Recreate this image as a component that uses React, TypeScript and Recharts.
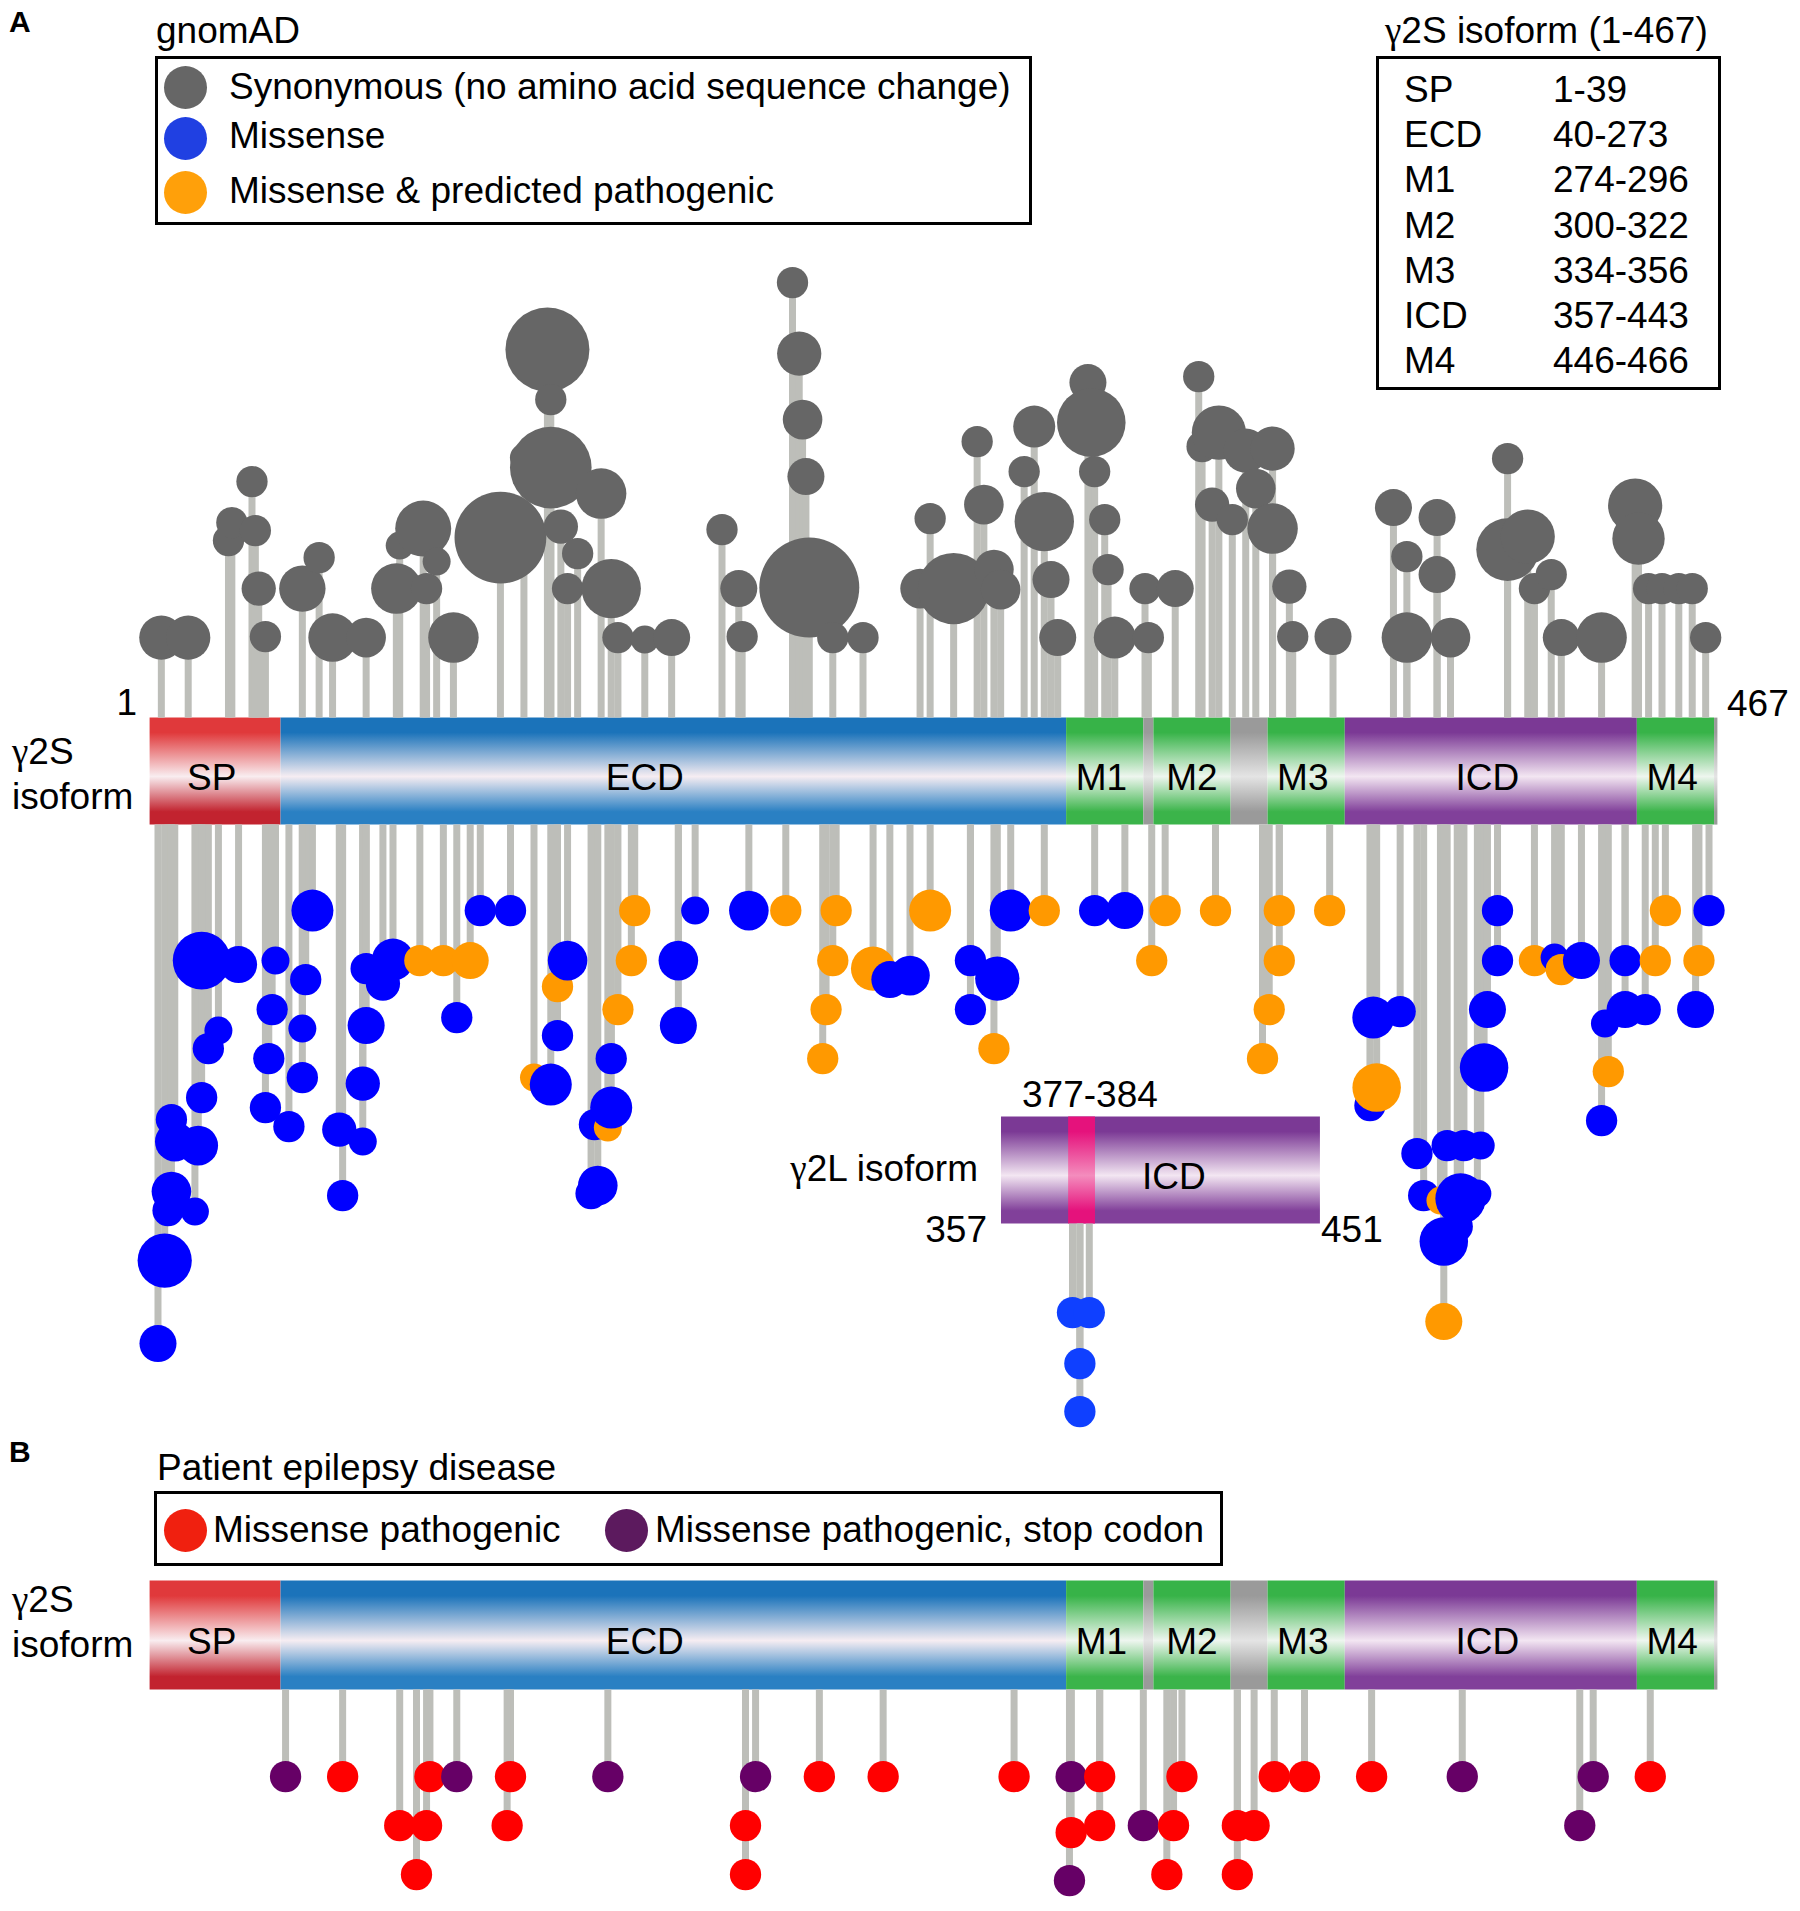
import React from 'react';
import { ComposedChart, Scatter, ErrorBar, XAxis, YAxis, ZAxis, ReferenceArea, ReferenceDot } from 'recharts';

// gnomAD synonymous: residue, stack height above the bar, carriers
const synonymous: [number, number, number][] = [
  [4, 80, 10], [12, 80, 10], [24, 177, 5], [25, 195, 5], [31, 236, 5], [32, 187, 5], [33, 129, 6], [35, 81, 5],
  [46, 129, 11], [51, 160, 5], [55, 80, 12], [65, 80, 8], [74, 129, 13], [75, 172, 4], [82, 189, 16], [83, 129, 5],
  [86, 156, 4], [91, 80, 13], [105, 180, 43], [112, 260, 4], [119, 368, 36], [120, 318, 5], [120, 250, 34],
  [123, 191, 6], [125, 129, 5], [128, 164, 5], [135, 224, 13], [138, 129, 18], [140, 80, 5], [148, 78, 4], [156, 80, 7],
  [171, 188, 5], [176, 129, 7], [177, 81, 5], [192, 435, 5], [194, 364, 10], [195, 298, 8], [196, 241, 7], [197, 130, 51],
  [204, 80, 5], [213, 80, 5], [230, 129, 8], [233, 199, 5], [240, 129, 26], [247, 276, 5], [249, 213, 8], [252, 148, 8],
  [254, 128, 8], [261, 246, 5], [264, 291, 9], [267, 196, 18], [269, 138, 7], [271, 80, 7],
  [280, 335, 7], [281, 295, 24], [282, 246, 5], [285, 198, 5], [286, 148, 5], [288, 80, 9],
  [297, 129, 5], [298, 80, 5], [306, 129, 7], [313, 341, 5], [314, 271, 5], [317, 213, 6], [319, 285, 15], [323, 198, 5],
  [327, 267, 10], [330, 229, 8], [335, 269, 10], [335, 189, 13], [340, 131, 6], [341, 81, 5], [353, 81, 7],
  [371, 210, 7], [375, 161, 5], [375, 80, 13], [384, 200, 7], [384, 143, 7], [388, 80, 8],
  [405, 259, 5], [405, 168, 20], [411, 181, 15], [413, 129, 5], [418, 143, 5], [421, 80, 7], [433, 80, 13],
  [443, 212, 15], [444, 179, 14], [447, 129, 5], [451, 129, 5], [456, 129, 5], [460, 129, 5], [464, 80, 5],
];

// gnomAD missense: residue, depth below the bar, carriers, 0 = missense, 1 = predicted pathogenic
const missense: [number, number, number, number][] = [
  [3, 519, 7, 0], [5, 436, 15, 0], [6, 386, 5, 0], [7, 367, 8, 0], [14, 387, 4, 0], [7, 295, 5, 0], [8, 317, 8, 0],
  [15, 321, 8, 0], [16, 273, 5, 0], [18, 224, 5, 0], [21, 206, 4, 0], [16, 136, 17, 0], [27, 140, 7, 0], [38, 136, 4, 0],
  [49, 86, 9, 0], [47, 155, 5, 0], [37, 185, 5, 0], [46, 204, 4, 0], [36, 234, 5, 0], [46, 253, 5, 0], [35, 283, 5, 0],
  [42, 302, 5, 0], [58, 371, 5, 0], [57, 305, 6, 0], [64, 317, 4, 0], [64, 259, 6, 0], [65, 201, 7, 0], [65, 144, 5, 0],
  [70, 159, 6, 0], [73, 135, 9, 0], [81, 136, 5, 1], [88, 136, 5, 1], [96, 136, 7, 1], [92, 193, 5, 0], [99, 86, 5, 0],
  [108, 86, 5, 0], [115, 253, 4, 1], [120, 260, 9, 0], [122, 162, 5, 1], [125, 136, 8, 0], [122, 211, 5, 0],
  [145, 86, 5, 1], [144, 136, 5, 1], [140, 185, 5, 1], [138, 234, 5, 0], [133, 300, 5, 0], [137, 303, 4, 1],
  [138, 283, 9, 0], [134, 361, 8, 0], [132, 369, 5, 0], [158, 136, 8, 0], [158, 201, 7, 0],
  [163, 86, 4, 0], [179, 86, 8, 0], [190, 86, 5, 1], [205, 86, 5, 1], [204, 136, 5, 1], [202, 185, 5, 1], [201, 234, 5, 1],
  [233, 86, 9, 1], [216, 144, 10, 1], [221, 155, 7, 0], [227, 151, 8, 0], [245, 136, 5, 0], [245, 185, 5, 0],
  [253, 154, 10, 0], [252, 224, 5, 1], [257, 86, 9, 0], [267, 86, 5, 1], [282, 86, 5, 0], [291, 86, 7, 0],
  [303, 86, 5, 1], [299, 136, 5, 1], [318, 86, 5, 1], [337, 86, 5, 1], [337, 136, 5, 1], [334, 185, 5, 1],
  [332, 234, 5, 1], [352, 86, 5, 1], [365, 193, 9, 0], [373, 187, 5, 0], [364, 281, 5, 0], [366, 263, 12, 1],
  [378, 329, 5, 0], [380, 371, 5, 0], [385, 376, 4, 1], [386, 417, 12, 0], [386, 497, 7, 1], [387, 321, 5, 0],
  [392, 321, 5, 0], [397, 321, 4, 0], [396, 369, 4, 0], [391, 374, 13, 0], [390, 402, 5, 0],
  [398, 243, 12, 0], [399, 185, 7, 0], [402, 136, 5, 0], [402, 86, 5, 0], [413, 136, 5, 1], [419, 133, 4, 0],
  [421, 145, 5, 1], [427, 136, 7, 0], [434, 199, 4, 0], [435, 247, 5, 1], [433, 296, 5, 0], [440, 185, 7, 0],
  [446, 185, 5, 0], [440, 136, 5, 0], [449, 136, 5, 1], [452, 86, 5, 1], [461, 185, 7, 0], [462, 136, 5, 1], [465, 86, 5, 0],
];

// gamma2L insert missense: residue (357-451 numbering), depth, carriers
const gamma2L: [number, number, number][] = [
  [377.8, 89, 5], [382.8, 89, 5], [380, 140, 5], [380, 188, 5],
];

// patient variants: residue, depth, 0 = missense pathogenic, 1 = stop codon
const patients: [number, number, number][] = [
  [41, 87, 1], [58, 87, 0], [75, 136, 0], [80, 185, 0], [83, 136, 0], [84, 87, 0], [92, 87, 1], [108, 87, 0],
  [107, 136, 0], [137, 87, 1], [178, 136, 0], [178, 185, 0], [181, 87, 1], [200, 87, 0], [219, 87, 0], [258, 87, 0],
  [275, 143, 0], [274.5, 191, 1], [275, 87, 1], [283.5, 87, 0], [283.5, 136, 0], [296.5, 136, 1], [303.5, 185, 0],
  [305.5, 136, 0], [308, 87, 0], [324.5, 136, 0], [324.5, 185, 0], [329.5, 136, 0], [335.5, 87, 0], [344.5, 87, 0],
  [364.5, 87, 0], [391.5, 87, 1], [426.5, 136, 1], [430.5, 87, 1], [447.5, 87, 0],
];

const domains = [
  { name: 'SP', start: 1, end: 39, kind: 'sp', label: 19 },
  { name: 'ECD', start: 40, end: 273, kind: 'ecd', label: 148 },
  { name: 'M1', start: 274, end: 296, kind: 'm', label: 284 },
  { name: '', start: 297, end: 299, kind: 'gap', label: 0 },
  { name: 'M2', start: 300, end: 322, kind: 'm', label: 311 },
  { name: '', start: 323, end: 333, kind: 'gap', label: 0 },
  { name: 'M3', start: 334, end: 356, kind: 'm', label: 344 },
  { name: 'ICD', start: 357, end: 443, kind: 'icd', label: 399 },
  { name: 'M4', start: 444, end: 466, kind: 'm', label: 454 },
  { name: '', start: 467, end: 467, kind: 'gap', label: 0 },
];

const regionNames = ['SP', 'ECD', 'M1', 'M2', 'M3', 'ICD', 'M4'];
const regionRanges = ['1-39', '40-273', '274-296', '300-322', '334-356', '357-443', '446-466'];

const W = 1800;
const H = 1911;
const X_DOMAIN: [number, number] = [-44.06, 492.1];
const Y_MAX = 717.6;
const Y_DOMAIN: [number, number] = [Y_MAX - H, Y_MAX];

// track levels (chart units)
const A_TOP = 0;
const A_BOT = -107;
const L_TOP = -399;
const L_BOT = -506;
const L_SHIFT = 102.4; // inset drawn shifted left
const B_TOP = -863;
const B_BOT = -972;

const STEM = '#bdbeb9';
const FONT = '"Liberation Sans", Arial, Helvetica, sans-serif';
const SERIF = '"Liberation Serif", "DejaVu Serif", serif';

const gradients: Record<string, [string, string, string]> = {
  sp: ['#e0393b', '#f9edf0', '#c2232f'],
  ecd: ['#1b73ba', '#f6edf2', '#2a80c3'],
  m: ['#37b348', '#eef6ef', '#3bb44a'],
  icd: ['#7b3995', '#f3e6f2', '#81409a'],
  gap: ['#9a9a9a', '#e4e4e4', '#9a9a9a'],
  pink: ['#e5127c', '#f48cbd', '#e5127c'],
};

const stems = [
  ...synonymous.map(([res, h]) => ({ res, v: A_TOP + h, err: [h, 0] })),
  ...missense.map(([res, d]) => ({ res, v: A_BOT - d, err: [0, d] })),
  ...gamma2L.map(([res, d]) => ({ res: res - L_SHIFT, v: L_BOT - d, err: [0, d] })),
  ...patients.map(([res, d]) => ({ res, v: B_BOT - d, err: [0, d] })),
];

const synData = synonymous.map(([res, h, c]) => ({ res, v: A_TOP + h, c }));
const misData = missense.map(([res, d, c, k]) => ({ res, v: A_BOT - d, c, k }));
const lData = gamma2L.map(([res, d, c]) => ({ res: res - L_SHIFT, v: L_BOT - d, c }));
const patData = patients.map(([res, d, k]) => ({ res, v: B_BOT - d, c: 5, k }));

const ball = (color: (p: any) => string) => (p: any) => {
  const r = Math.sqrt(Math.max(p.size || 0, 0) / Math.PI);
  return <circle cx={p.cx} cy={p.cy} r={r} fill={color(p.payload)} />;
};

const T = ({ x, y, children, size = 37, align = 'left', bold = false }: any) => (
  <div
    style={{
      position: 'absolute',
      left: x,
      top: y - size * 0.4885,
      fontSize: size,
      lineHeight: 1,
      fontFamily: FONT,
      fontWeight: bold ? 700 : 400,
      whiteSpace: 'nowrap',
      color: '#000',
      transform: align === 'right' ? 'translateX(-100%)' : undefined,
    }}
  >
    {children}
  </div>
);

const Gamma = () => <span style={{ fontFamily: SERIF }}>γ</span>;

const Swatch = ({ x, y, color }: any) => (
  <div style={{ position: 'absolute', left: x - 21.5, top: y - 21.5, width: 43, height: 43, borderRadius: '50%', background: color }} />
);

const Box = ({ x, y, w, h }: any) => (
  <div style={{ position: 'absolute', left: x, top: y, width: w, height: h, border: '3.5px solid #000', boxSizing: 'border-box' }} />
);

const track = (top: number, bot: number, key: string) => [
  ...domains.map((d, i) => (
    <ReferenceArea
      key={`${key}-a${i}`}
      x1={d.start - 0.5}
      x2={d.end + 0.5}
      y1={bot}
      y2={top}
      fill={`url(#g-${d.kind})`}
      fillOpacity={1}
      stroke="none"
    />
  )),
  ...domains
    .filter((d) => d.name)
    .map((d, i) => (
      <ReferenceDot
        key={`${key}-l${i}`}
        x={d.label}
        y={(top + bot) / 2 - 6}
        r={0}
        fill="none"
        stroke="none"
        label={{ value: d.name, position: 'center', fontSize: 37, fill: '#000', fontFamily: FONT }}
      />
    )),
];

export default function App() {
  return (
    <div style={{ position: 'absolute', left: 0, top: 0, width: W, height: H, background: '#fff' }}>
      <ComposedChart width={W} height={H} margin={{ top: 0, right: 0, bottom: 0, left: 0 }}>
        <defs>
          {Object.entries(gradients).map(([k, [a, b, c]]) => (
            <linearGradient key={k} id={`g-${k}`} x1="0" y1="0" x2="0" y2="1">
              <stop offset="0" stopColor={a} />
              <stop offset="0.14" stopColor={a} />
              <stop offset="0.55" stopColor={b} />
              <stop offset="0.88" stopColor={c} />
              <stop offset="1" stopColor={c} />
            </linearGradient>
          ))}
        </defs>
        <XAxis type="number" dataKey="res" domain={X_DOMAIN} allowDataOverflow hide />
        <YAxis type="number" dataKey="v" domain={Y_DOMAIN} allowDataOverflow hide />
        <ZAxis type="number" dataKey="c" domain={[0, 60]} range={[0, 60 * 49 * Math.PI]} />

        {track(A_TOP, A_BOT, 'A')}
        {track(B_TOP, B_BOT, 'B')}
        <ReferenceArea x1={356.5 - L_SHIFT} x2={451.5 - L_SHIFT} y1={L_BOT} y2={L_TOP} fill="url(#g-icd)" fillOpacity={1} stroke="none" />
        <ReferenceArea x1={376.5 - L_SHIFT} x2={384.5 - L_SHIFT} y1={L_BOT} y2={L_TOP} fill="url(#g-pink)" fillOpacity={1} stroke="none" />
        <ReferenceDot
          x={408 - L_SHIFT}
          y={(L_TOP + L_BOT) / 2 - 6}
          r={0}
          fill="none"
          stroke="none"
          label={{ value: 'ICD', position: 'center', fontSize: 37, fill: '#000', fontFamily: FONT }}
        />

        <Scatter data={stems} shape={() => <g />} isAnimationActive={false}>
          <ErrorBar dataKey="err" direction="y" width={0} stroke={STEM} strokeWidth={7} isAnimationActive={false} />
        </Scatter>
        <Scatter data={synData} shape={ball(() => '#666666')} isAnimationActive={false} />
        <Scatter data={misData} shape={ball((p) => (p.k ? '#ff9900' : '#0000ff'))} isAnimationActive={false} />
        <Scatter data={lData} shape={ball(() => '#0f40ff')} isAnimationActive={false} />
        <Scatter data={patData} shape={ball((p) => (p.k ? '#660066' : '#ff0000'))} isAnimationActive={false} />
      </ComposedChart>

      <T x={9} y={22} size={30} bold>A</T>
      <T x={156} y={30}>gnomAD</T>
      <Box x={155} y={56} w={877} h={169} />
      <Swatch x={185} y={87} color="#666666" />
      <Swatch x={185} y={138} color="#2040e2" />
      <Swatch x={185} y={192} color="#ffa00a" />
      <T x={229} y={86}>Synonymous (no amino acid sequence change)</T>
      <T x={229} y={135}>Missense</T>
      <T x={229} y={190}>Missense &amp; predicted pathogenic</T>

      <T x={1385} y={30}><Gamma />2S isoform (1-467)</T>
      <Box x={1376} y={56} w={345} h={334} />
      {regionNames.map((n, i) => (
        <React.Fragment key={n}>
          <T x={1404} y={89 + i * 45.2}>{n}</T>
          <T x={1553} y={89 + i * 45.2}>{regionRanges[i]}</T>
        </React.Fragment>
      ))}

      <T x={137} y={702} align="right">1</T>
      <T x={1727} y={703}>467</T>
      <T x={12} y={751}><Gamma />2S</T>
      <T x={12} y={796}>isoform</T>

      <T x={1022} y={1094}>377-384</T>
      <T x={978} y={1168} align="right"><Gamma />2L isoform</T>
      <T x={987} y={1229} align="right">357</T>
      <T x={1321} y={1229}>451</T>

      <T x={9} y={1452} size={30} bold>B</T>
      <T x={157} y={1467}>Patient epilepsy disease</T>
      <Box x={154} y={1491} w={1069} h={75} />
      <Swatch x={185} y={1530} color="#f0200f" />
      <Swatch x={626} y={1530} color="#5c1a5e" />
      <T x={213} y={1529}>Missense pathogenic</T>
      <T x={655} y={1529}>Missense pathogenic, stop codon</T>
      <T x={12} y={1599}><Gamma />2S</T>
      <T x={12} y={1644}>isoform</T>
    </div>
  );
}
